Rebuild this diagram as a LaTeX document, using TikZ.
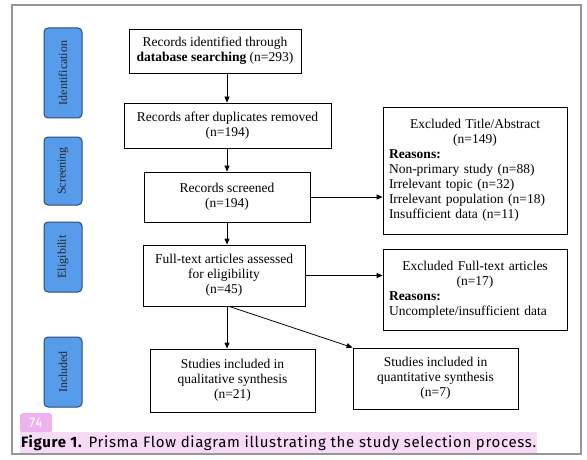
\documentclass[tikz,border=0pt]{standalone}
\usepackage{fontspec}
\setmainfont{Liberation Serif}
\newfontfamily\capfont[LetterSpace = 4.5]{Fira Sans}
\usetikzlibrary{arrows.meta, calc}

\definecolor{stageblue}{RGB}{86,156,234}
\definecolor{stageedge}{RGB}{45,75,115}
\definecolor{framegray}{RGB}{150,150,150}
\definecolor{markpink}{RGB}{246,218,246}
\definecolor{pagepink}{RGB}{238,178,238}

\tikzset{
	stage/.style = {draw = stageedge, fill = stageblue, line width = 1pt, rounded corners = 4pt,
		rotate = 90, minimum height = 38pt, inner sep = 1pt, text = black!85,
		font = \fontsize{12}{13}\selectfont},
	box/.style = {draw, line width = 0.8pt, align = center, inner sep = 3pt,
		font = \fontsize{13.5}{15}\selectfont},
	reasons/.style = {draw, line width = 0.8pt, inner xsep = 6pt, inner ysep = 4pt, text width = 172pt,
		font = \fontsize{13.5}{15}\selectfont},
	flow/.style = {-{Triangle[length = 6pt, width = 5pt]}, line width = 0.8pt}
}

\begin{document}
\begin{tikzpicture}[x = 1pt, y = -1pt]
		\useasboundingbox (0,0) rectangle (587,460);
		\draw [framegray, line width = 1.5pt] (12,5) rectangle (581,454);
		
		% stages
		\node [stage, minimum width = 90pt] (ident) at (63,73) {Identification};
		\node [stage, minimum width = 68pt] (screen) at (63,171) {Screening};
		\node [stage, minimum width = 70pt] (elig) at (63,257) {Eligibilit};
		\node [stage, minimum width = 70pt] (incl) at (63,372) {Included};
		
		% main column
		\node [box, minimum width = 172pt, minimum height = 44pt] (found) at (215,51) {Records identified through\\\textbf{database searching} (n=293)};
		\node [box, minimum width = 207pt, minimum height = 45pt] (dedup) at (227.5,125.5) {Records after duplicates removed\\(n=194)};
		\node [box, minimum width = 166pt, minimum height = 50pt] (screened) at (227,197) {Records screened\\(n=194)};
		\node [box, minimum width = 162pt, minimum height = 61pt] (fulltext) at (224,275.5) {Full-text articles assessed\\for eligibility\\(n=45)};
		\node [box, minimum width = 165pt, minimum height = 63pt] (qual) at (232.5,380.5) {Studies included in\\qualitative synthesis\\(n=21)};
		\node [box, minimum width = 165pt, minimum height = 61pt] (quant) at (435.5,378.5) {Studies included in\\quantitative synthesis\\(n=7)};
		
		% exclusions
		\node [reasons, minimum height = 127pt] (exabs) at (475,170.5) {{\centering Excluded Title/Abstract\\(n=149)\par}\raggedright\textbf{Reasons:}\\Non-primary study (n=88)\\Irrelevant topic (n=32)\\Irrelevant population (n=18)\\Insufficient data (n=11)};
		\node [reasons, minimum height = 81pt] (exfull) at (475,289.5) {{\centering Excluded Full-text articles\\(n=17)\par}\raggedright\textbf{Reasons:}\\Uncomplete/insufficient data};
		
		% arrows
		\draw [flow] (found.south -| screened.north) -- (dedup.north -| screened.north);
		\draw [flow] (dedup.south -| screened.north) -- (screened.north);
		\draw [flow] (screened.south) -- (fulltext.north -| screened.south);
		\draw [flow] (screened.east) -- (screened.east -| exabs.west);
		\draw [flow] (fulltext.east) -- (fulltext.east -| exfull.west);
		\draw [flow] (fulltext.south -| screened.south) -- (qual.north -| screened.south);
		\draw [flow] ($ (fulltext.south) + (5,0) $) -- (quant.north west);
		
		% caption
		\node [fill = pagepink, rounded corners = 3pt, text = white, minimum width = 32pt, minimum height = 20pt,
			font = \capfont\fontsize{14}{16}\selectfont] (page) at (36,423) {74};
		\node [fill = markpink, anchor = base west, inner xsep = 1pt, inner ysep = 3pt,
			font = \capfont\fontsize{15}{16}\selectfont] (caption) at (20,447) {\textbf{Figure 1.} Prisma Flow diagram illustrating the study selection process.};
	\end{tikzpicture}
\end{document}
